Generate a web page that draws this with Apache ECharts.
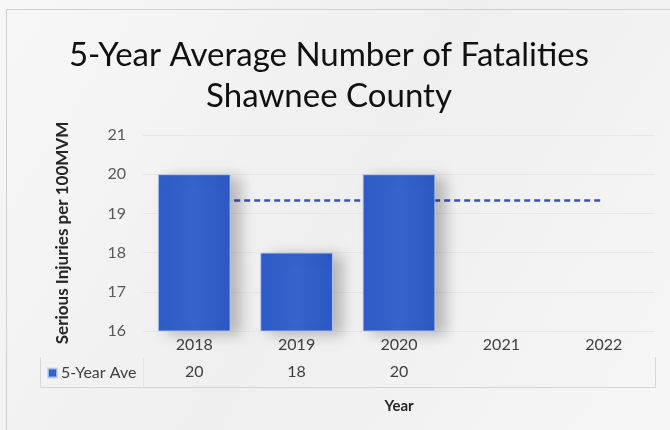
<!DOCTYPE html>
<html>
<head>
<meta charset="utf-8">
<script src="https://cdn.jsdelivr.net/npm/echarts@6/dist/echarts.min.js"></script>
<style>
  html, body { margin: 0; padding: 0; background: #ffffff; }
  #chart { width: 670px; height: 430px; }
</style>
</head>
<body>
<div id="chart"></div>
<script>
// Years shown on the category axis
const years = ['2018', '2019', '2020', '2021', '2022'];
// 5-year average fatalities per year (no value yet for 2021 and 2022)
const fiveYearAve = [20, 18, 20, null, null];
// Overall average reference line drawn across the years
const overallAve = [19.33, 19.33, 19.33, 19.33, 19.33];
// Value-axis range and step
const yMin = 16, yMax = 21, yStep = 1;

const chart = echarts.init(document.getElementById('chart'), null, { renderer: 'canvas' });

const FONT = 'Lato, "Open Sans", sans-serif';
const plotLeft = 143, plotRight = 15, plotTop = 135, plotBottom = 99;

chart.setOption({
  animation: false,
  backgroundColor: {
    type: 'linear', x: 0, y: 0, x2: 1, y2: 1,
    colorStops: [
      { offset: 0, color: '#f7f7f7' },
      { offset: 0.5, color: '#efefef' },
      { offset: 1, color: '#f6f6f6' }
    ]
  },
  title: {
    text: '5-Year Average Number of Fatalities\nShawnee County',
    left: 324,
    top: 30,
    textAlign: 'center',
    textStyle: {
      fontFamily: FONT,
      fontSize: 33,
      fontWeight: 'normal',
      color: '#111111',
      lineHeight: 41
    }
  },
  legend: {
    left: 42,
    top: 360,
    itemWidth: 9,
    itemHeight: 9,
    itemGap: 4,
    icon: 'rect',
    data: ['5-Year Ave'],
    textStyle: { fontFamily: FONT, fontSize: 16, color: '#404040', padding: [0, 0, 0, -1] }
  },
  grid: { left: plotLeft, right: plotRight, top: plotTop, bottom: plotBottom },
  xAxis: [
    {
      type: 'category',
      data: years,
      axisLine: { show: false },
      axisTick: { show: false },
      axisLabel: { fontFamily: FONT, fontSize: 16, color: '#404040', margin: 6 },
      name: 'Year',
      nameLocation: 'middle',
      nameGap: 68,
      nameTextStyle: { fontFamily: FONT, fontSize: 15, fontWeight: 'bold', color: '#262626' }
    },
    {
      // data-table row: the series values printed under each year
      type: 'category',
      position: 'bottom',
      offset: 28,
      data: fiveYearAve.map(v => (v == null ? '' : String(v))),
      axisLine: { show: false },
      axisTick: { show: false },
      axisLabel: { fontFamily: FONT, fontSize: 16, color: '#404040', margin: 5 }
    }
  ],
  yAxis: {
    type: 'value',
    min: yMin,
    max: yMax,
    interval: yStep,
    axisLine: { show: false },
    axisTick: { show: false },
    axisLabel: { fontFamily: FONT, fontSize: 16, color: '#595959', margin: 17 },
    splitLine: { show: true, lineStyle: { color: '#e6e6e6', width: 1 } },
    name: 'Serious Injuries per 100MVM',
    nameLocation: 'middle',
    nameGap: 72,
    nameTextStyle: { fontFamily: FONT, fontSize: 17, fontWeight: 'bold', color: '#262626' }
  },
  series: [
    {
      name: 'Average',
      type: 'line',
      data: overallAve,
      z: 1,
      symbol: 'none',
      lineStyle: { color: '#3d52b8', width: 2.5, type: [6, 4] },
      silent: true
    },
    {
      name: '5-Year Ave',
      type: 'bar',
      data: fiveYearAve,
      z: 3,
      barWidth: '71%',
      itemStyle: {
        color: {
          type: 'linear', x: 0, y: 0, x2: 1, y2: 0,
          colorStops: [
            { offset: 0, color: '#2f5cc8' },
            { offset: 0.5, color: '#3564cc' },
            { offset: 1, color: '#2d58c2' }
          ]
        },
        borderColor: 'rgba(190,205,240,0.8)',
        borderWidth: 1,
        shadowColor: 'rgba(0,0,0,0.25)',
        shadowBlur: 14,
        shadowOffsetX: 10,
        shadowOffsetY: 3
      }
    }
  ],
  graphic: [
    // outer frame
    {
      type: 'rect',
      shape: { x: 6.5, y: 9.5, width: 670, height: 430 },
      style: { fill: 'none', stroke: '#cfcfcf', lineWidth: 1 },
      silent: true
    },
    // data table borders
    {
      type: 'polyline',
      shape: { points: [[40.5, 357], [40.5, 387.5], [655.5, 387.5], [655.5, 357]] },
      style: { fill: 'none', stroke: '#d6d6d6', lineWidth: 1 },
      silent: true
    },
    {
      type: 'line',
      shape: { x1: 143.5, y1: 358, x2: 143.5, y2: 387 },
      style: { stroke: '#e2e2e2', lineWidth: 1 },
      silent: true
    }
  ]
});
</script>
</body>
</html>
